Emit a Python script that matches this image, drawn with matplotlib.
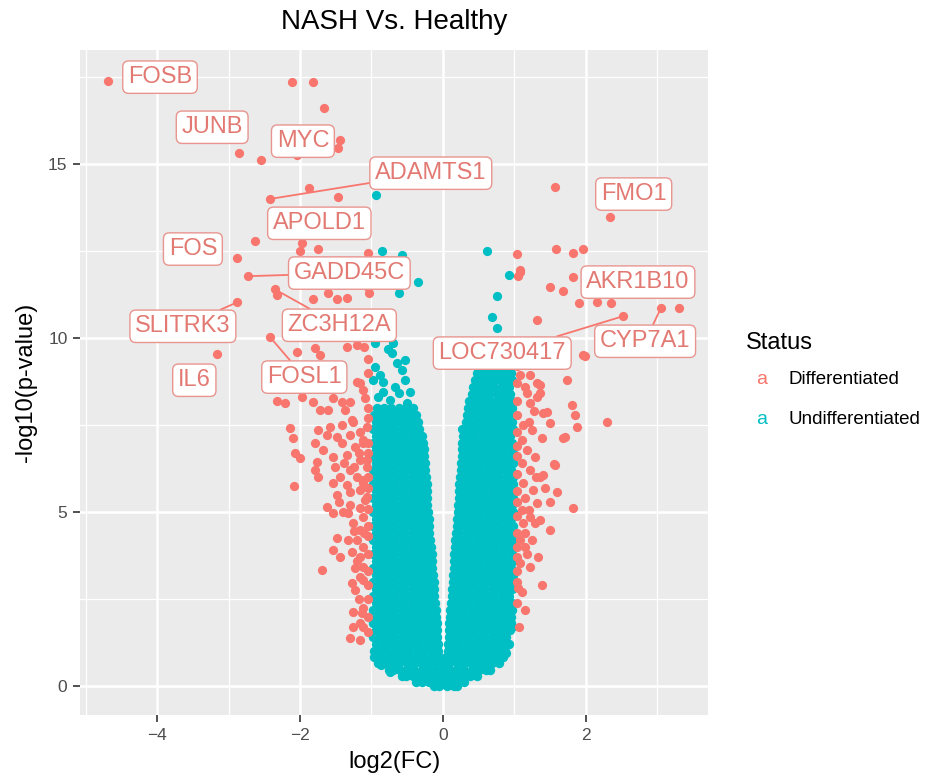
import matplotlib.pyplot as plt
import numpy as np

plt.rcParams['font.family'] = ['Liberation Sans', 'DejaVu Sans']

RED = '#F8766D'
TEAL = '#00BFC4'

# Differentiated genes (log2FC, -log10 p)
diff_x = [-4.69, -2.11, -1.82, -1.66, -2.85, -2.55, -1.44, -1.47, -2.04, -1.87,
          -2.42, -1.47, -2.63, -1.97, -2.00, -1.75, -1.05, -2.88, -2.73, -2.35,
          -2.32, -1.82, -1.61, -1.48, -1.34, -1.05, -1.03, -2.88, -2.42, -3.16,
          -2.04, -1.79, -1.72, -1.34, -1.20, -1.10, -1.16, -1.44, -1.20, -1.12,
          -1.47, -2.32, -2.21, -1.97, -1.82, -1.54, -1.41, -1.30, -1.09, -1.72,
          -1.61, -1.37, -1.27, -1.41, -1.06, -1.26, -2.14, -2.10, -1.75, -1.58,
          -1.62, -1.48, -1.30, -1.16, -1.12, -1.79, -1.41, -1.23, -1.12, -2.07,
          -1.68, -1.54, -1.34, -2.00, -1.76, -1.16, -1.06, -1.51, -1.79, -1.30,
          -1.06, -1.75, -1.44, -1.20, -1.12, -2.08, -1.54, -1.34, -1.12, -1.48,
          -1.30, -1.16, -1.09, -1.06, -1.62, -1.40, -1.33, -1.16, -1.54, -1.26,
          -1.16, -1.12, -1.48, -1.33, -1.20, -1.12, -1.54, -1.44, -1.27, -1.16,
          -1.69, -1.23, -1.12, -1.16, -1.27, -1.23, -1.12, -1.12, -1.26, -1.16,
          -1.12, -1.30, -1.16, -1.26, -1.13,
          -1.05, -1.05, -1.05, -1.05, -1.05, -1.05, -1.05, -1.05, -1.05, -1.05,
          -1.05, -1.05, -1.05, -1.05, -1.05, -1.05, -1.05, -1.18, -1.20, -1.10,
          -1.25, -1.30, -1.25, -1.17, -1.38, -1.45,
          1.57, 2.34, 1.03, 1.58, 1.82, 1.96, 1.08, 1.05, 1.50, 1.68,
          1.82, 1.90, 2.15, 2.35, 2.52, 3.05, 3.31, 1.31, 1.96, 1.99,
          1.73, 1.80, 1.85, 1.87, 2.29, 1.68, 1.38, 1.55, 1.40, 1.43,
          1.59, 1.50, 1.82, 1.50, 1.33, 1.39, 1.15, 1.06, 1.08, 1.22,
          1.31, 1.17, 1.36, 1.22, 1.40, 1.12, 1.24, 1.71, 1.10, 1.17,
          1.29, 1.10, 1.57, 1.22, 1.36, 1.12, 1.26, 1.15, 1.31, 1.10,
          1.22, 1.36, 1.12, 1.29, 1.15, 1.08, 1.15, 1.08, 1.22, 1.05,
          1.10, 1.15, 1.36, 1.31, 1.45, 1.50, 1.08, 1.03,
          1.04, 1.04, 1.04, 1.04, 1.04, 1.04, 1.04, 1.04, 1.04, 1.04,
          1.04, 1.04, 1.04, 1.04, 1.04, 1.04, 1.18, 1.25, 1.20, 1.30,
          1.20, 1.28]
diff_y = [17.39, 17.36, 17.36, 16.60, 15.32, 15.11, 15.69, 15.46, 15.26, 14.31,
          14.00, 14.05, 12.79, 12.73, 12.50, 12.56, 12.44, 12.30, 11.78, 11.40,
          11.25, 11.12, 11.29, 11.12, 11.15, 11.47, 11.30, 11.03, 10.03, 9.54,
          9.60, 9.71, 9.51, 9.74, 9.80, 9.74, 8.71, 8.80, 8.74, 8.50,
          8.60, 8.19, 8.13, 8.30, 8.16, 8.28, 8.16, 8.16, 8.28, 7.93,
          7.93, 7.93, 7.64, 7.50, 7.44, 7.59, 7.41, 7.13, 7.36, 7.44,
          7.21, 7.16, 7.21, 7.30, 7.07, 6.98, 6.98, 6.87, 6.98, 6.70,
          6.78, 6.58, 6.64, 6.55, 6.44, 6.49, 6.49, 6.29, 6.21, 6.21,
          6.29, 6.01, 6.01, 6.01, 5.92, 5.75, 5.83, 5.78, 5.83, 5.49,
          5.57, 5.63, 5.34, 5.43, 5.14, 5.00, 4.97, 5.11, 4.97, 4.68,
          4.48, 4.86, 4.25, 4.20, 4.20, 4.00, 3.91, 3.71, 3.85, 3.71,
          3.33, 3.39, 3.42, 3.13, 2.96, 2.76, 3.05, 2.24, 2.13, 1.81,
          1.70, 1.38, 1.32, 1.70, 2.10,
          9.40, 9.00, 8.00, 7.70, 7.00, 6.70, 6.00, 5.70, 5.10, 4.60,
          4.30, 3.80, 3.30, 2.90, 2.50, 2.00, 1.55, 2.50, 3.60, 4.40,
          4.45, 5.20, 6.30, 6.70, 6.40, 5.30,
          14.33, 13.48, 12.41, 12.56, 12.45, 12.57, 11.90, 11.78, 11.47, 11.35,
          11.75, 11.00, 11.03, 11.00, 10.63, 10.86, 10.86, 10.52, 9.51, 9.50,
          8.79, 8.08, 7.79, 7.44, 7.58, 7.13, 7.13, 6.38, 6.06, 5.69,
          5.57, 5.29, 5.11, 4.48, 3.71, 2.90, 2.18, 1.70, 8.94, 8.94,
          8.70, 8.42, 8.42, 8.13, 7.84, 7.50, 7.36, 7.16, 7.07, 6.78,
          6.58, 6.41, 6.35, 6.21, 6.01, 5.83, 5.63, 5.40, 5.26, 5.06,
          4.86, 4.77, 4.68, 4.68, 4.40, 4.20, 4.00, 3.53, 3.42, 2.82,
          2.70, 8.60, 8.65, 8.30, 7.87, 7.56, 11.95, 8.70,
          9.20, 8.20, 7.80, 7.30, 6.90, 6.60, 6.10, 5.60, 5.30, 4.90,
          4.40, 4.00, 3.70, 3.30, 3.00, 2.40, 3.80, 4.20, 5.05, 6.00,
          7.60, 7.90]

# Undifferentiated genes standing apart from the main cloud
undiff_x = [-0.94, -0.85, -0.58, -0.35, -0.61, -0.55, -0.95, -0.70, -0.53, -0.71,
            -0.64, -0.95, -0.98, -0.84, -0.53, -0.46, -0.84, -0.57, -0.88, -0.67,
            -0.62, -0.91, -0.74, -0.50, -0.77, -0.74, -0.86,
            0.61, 0.92, 0.76, 0.68, 0.76, 0.27, 0.55, 0.70, 0.85, 0.45,
            0.80, 0.88, 0.96]
undiff_y = [14.10, 12.50, 12.40, 11.60, 11.30, 11.95, 9.86, 9.86, 9.37, 9.56,
            9.28, 9.17, 8.80, 8.74, 8.80, 8.45, 8.45, 9.08, 8.94, 8.60,
            8.42, 8.30, 8.22, 8.13, 9.70, 0.40, 0.60,
            12.50, 11.80, 11.20, 10.60, 10.30, 7.40, 9.60, 9.80, 9.50, 9.40,
            0.85, 0.95, 1.70]

# Dense undifferentiated cloud, row by row: (-log10 p, log2FC x 100)
undiff_rows = [
    (0.00, [-12, -5, 5, 15, 20]),
    (0.12, [-38, -30, -20, -10, 0, 10, 20, 30]),
    (0.28, [-58, -52, -42, -32, -22, -12, -2, 8, 18, 28, 38, 48]),
    (0.45, [-76, -70, -60, -50, -40, -30, -20, -10, 0, 10, 20, 30, 40, 50, 60, 66]),
    (0.65, [-91, -81, -71, -61, -51, -41, -31, -21, -11, -1, 9, 19, 29, 39, 49, 59, 69, 79]),
    (0.85, [-96, -86, -76, -66, -56, -46, -36, -26, -16, -6, 4, 14, 24, 34, 44, 54, 64, 74, 84]),
    (1.0, [-97, -87, -77, -67, -57, -47, -37, -27, -17, -7, 7, 17, 27, 37, 47, 57, 67, 77, 87]),
    (1.2, [-93, -83, -73, -63, -53, -43, -33, -23, -13, -7, 7, 13, 23, 33, 43, 53, 63, 73, 83, 92]),
    (1.4, [-98, -88, -78, -68, -58, -48, -38, -28, -18, -8, 8, 18, 28, 38, 48, 58, 68, 78, 88]),
    (1.6, [-94, -84, -74, -64, -54, -44, -34, -24, -14, -8, 8, 14, 24, 34, 44, 54, 64, 74, 84, 94]),
    (1.8, [-98, -88, -78, -68, -58, -48, -38, -28, -18, -9, 9, 19, 29, 39, 49, 59, 69, 79, 89, 95]),
    (2.0, [-94, -84, -74, -64, -54, -44, -34, -24, -15, -10, 10, 15, 25, 35, 45, 55, 65, 75, 85, 95]),
    (2.2, [-98, -88, -78, -68, -58, -48, -38, -28, -19, -10, 10, 20, 30, 40, 50, 60, 70, 80, 90, 96]),
    (2.4, [-94, -84, -74, -64, -54, -44, -34, -24, -15, -11, 11, 17, 27, 37, 47, 57, 67, 77, 87, 96]),
    (2.6, [-98, -88, -78, -68, -58, -48, -38, -28, -20, -12, 12, 22, 32, 42, 52, 62, 72, 82, 92]),
    (2.8, [-94, -84, -74, -64, -54, -44, -34, -24, -15, -12, 12, 18, 28, 38, 48, 58, 68, 78, 88, 97]),
    (3.0, [-98, -88, -78, -68, -58, -48, -38, -28, -20, -13, 14, 24, 34, 44, 54, 64, 74, 84, 94]),
    (3.2, [-94, -84, -74, -64, -54, -44, -34, -24, -14, 14, 20, 30, 40, 50, 60, 70, 80, 90, 98]),
    (3.4, [-98, -88, -78, -68, -58, -48, -38, -28, -20, -15, 15, 25, 35, 45, 55, 65, 75, 85, 95]),
    (3.6, [-94, -84, -74, -64, -54, -44, -34, -24, -15, 15, 21, 31, 41, 51, 61, 71, 81, 91, 98]),
    (3.8, [-98, -88, -78, -68, -58, -48, -38, -28, -20, -16, 16, 26, 36, 46, 56, 66, 76, 86, 96]),
    (4.0, [-94, -84, -74, -64, -54, -44, -34, -25, -17, 17, 22, 32, 42, 52, 62, 72, 82, 92, 98]),
    (4.2, [-98, -88, -78, -68, -58, -48, -38, -28, -18, 17, 27, 37, 47, 57, 67, 77, 87, 97]),
    (4.4, [-94, -84, -74, -64, -54, -44, -34, -26, -19, 18, 23, 33, 43, 53, 63, 73, 83, 93, 98]),
    (4.6, [-98, -88, -78, -68, -58, -48, -38, -29, -20, 19, 29, 39, 49, 59, 69, 79, 89, 98]),
    (4.8, [-94, -84, -74, -64, -54, -44, -34, -26, -20, 20, 25, 35, 45, 55, 65, 75, 85, 95]),
    (5.0, [-98, -88, -78, -68, -58, -48, -38, -29, -21, 21, 31, 41, 51, 61, 71, 81, 91, 98]),
    (5.2, [-94, -84, -74, -64, -54, -44, -34, -27, -22, 21, 27, 37, 47, 57, 67, 77, 87, 97]),
    (5.4, [-98, -88, -78, -68, -58, -48, -38, -30, -22, 22, 32, 42, 52, 62, 72, 82, 92, 98]),
    (5.6, [-94, -84, -74, -64, -54, -44, -34, -28, -23, 22, 28, 38, 48, 58, 68, 78, 88, 97]),
    (5.8, [-98, -88, -78, -68, -58, -48, -38, -30, -23, 23, 33, 43, 53, 63, 73, 83, 93, 98]),
    (6.0, [-94, -84, -74, -64, -54, -44, -34, -24, 24, 29, 39, 49, 59, 69, 79, 89, 98]),
    (6.2, [-98, -88, -78, -68, -58, -48, -38, -31, -25, 25, 35, 45, 55, 65, 75, 85, 95]),
    (6.4, [-94, -84, -74, -64, -54, -44, -34, -25, 25, 31, 41, 51, 61, 71, 81, 91, 98]),
    (6.6, [-98, -88, -78, -68, -58, -48, -38, -32, -26, 26, 36, 46, 56, 66, 76, 86, 96]),
    (6.8, [-94, -84, -74, -64, -54, -44, -35, -27, 27, 32, 42, 52, 62, 72, 82, 92, 98]),
    (7.0, [-98, -88, -78, -68, -58, -48, -38, -28, 27, 37, 47, 57, 67, 77, 87, 97]),
    (7.2, [-94, -84, -74, -64, -54, -44, -36, -30, 28, 34, 44, 54, 64, 74, 84, 94]),
    (7.4, [-98, -88, -78, -68, -58, -48, -40, -33, 30, 40, 50, 60, 70, 80, 90, 98]),
    (7.6, [-94, -84, -74, -64, -54, -44, -35, 32, 37, 47, 57, 67, 77, 87, 96]),
    (7.8, [-97, -87, -77, -67, -57, -47, -38, 33, 43, 53, 63, 73, 83, 93]),
    (8.0, [-92, -82, -72, -62, -52, -42, 35, 40, 50, 60, 70, 80, 90, 97]),
    (8.2, [37, 47, 57, 67, 77, 87, 96]),
    (8.4, [40, 45, 55, 65, 75, 85, 94]),
    (8.6, [42, 52, 62, 72, 82, 92]),
    (8.8, [45, 50, 60, 70, 80, 90, 97]),
    (9.0, [47, 57, 67, 77, 87, 95]),
    (9.2, [50, 62, 74, 86, 95]),
]

# Labelled genes: name, point, label centre
genes = ['FOSB', 'JUNB', 'MYC', 'ADAMTS1', 'APOLD1', 'FOS', 'GADD45C', 'SLITRK3',
         'ZC3H12A', 'IL6', 'FOSL1', 'LOC730417', 'CYP7A1', 'AKR1B10', 'FMO1']
gene_x = [-4.69, -2.85, -2.04, -2.42, -2.63, -2.88, -2.73, -2.88,
          -2.35, -3.16, -2.42, 2.52, 3.05, 1.82, 2.34]
gene_y = [17.39, 15.32, 15.26, 14.00, 12.79, 12.30, 11.78, 11.03,
          11.40, 9.54, 10.03, 10.63, 10.86, 11.75, 13.48]
label_x = [-3.96, -3.23, -1.96, -0.17, -1.73, -3.50, -1.31, -3.64,
           -1.45, -3.48, -1.94, 0.83, 2.83, 2.73, 2.67]
label_y = [17.50, 16.06, 15.66, 14.74, 13.30, 12.56, 11.87, 10.34,
           10.37, 8.79, 8.88, 9.57, 9.91, 11.61, 14.14]
has_segment = [False, False, False, True, False, False, True, True,
               True, False, True, True, True, False, False]

core_x, core_y = [], []
for y, xs in undiff_rows:
    core_x += [v / 100 for v in xs]
    core_y += [y] * len(xs)

fig = plt.figure(figsize=(9.31, 7.84), dpi=100)
ax = fig.add_axes([80 / 931, 1 - 715 / 784, 628 / 931, 665 / 784])
ax.set_facecolor('#EBEBEB')

ax.scatter(core_x, core_y, s=46, color=TEAL, linewidths=0, zorder=2)
ax.scatter(undiff_x, undiff_y, s=44, color=TEAL, linewidths=0, zorder=2)
ax.scatter(diff_x, diff_y, s=44, color=RED, linewidths=0, zorder=3)

for g, px, py, lx, ly, seg in zip(genes, gene_x, gene_y, label_x, label_y, has_segment):
    arrow = dict(arrowstyle='-', color=RED, lw=1.3, shrinkA=0, shrinkB=2) if seg else None
    ax.annotate(g, xy=(px, py), xytext=(lx, ly), textcoords='data',
                ha='center', va='center', fontsize=17, color='#E27A73',
                bbox=dict(boxstyle='round,pad=0.22,rounding_size=0.25', fc='white',
                          ec='#E8958F', lw=1.0),
                arrowprops=arrow, zorder=5)

ax.set_xlim(-5.08, 3.71)
ax.set_ylim(-0.83, 18.28)
ax.set_xticks([-4, -2, 0, 2])
ax.set_xticks([-5, -3, -1, 1, 3], minor=True)
ax.set_yticks([0, 5, 10, 15])
ax.set_yticks([2.5, 7.5, 12.5, 17.5], minor=True)
ax.grid(which='major', color='white', lw=1.8, zorder=0)
ax.grid(which='minor', color='white', lw=0.9, zorder=0)
ax.set_axisbelow(True)
for sp in ax.spines.values():
    sp.set_visible(False)
ax.tick_params(which='major', length=5, width=1.2, color='#333333',
               labelsize=12.5, labelcolor='#4D4D4D', pad=4)
ax.tick_params(which='minor', length=0)

ax.set_xlabel('log2(FC)', fontsize=17, labelpad=6)
ax.set_ylabel('-log10(p-value)', fontsize=17, labelpad=8)

fig.text(394 / 931, 1 - 22 / 784, 'NASH Vs. Healthy', ha='center', va='center', fontsize=20)

# legend with text keys, as ggplot draws for geom_label
fig.text(746 / 931, 1 - 343 / 784, 'Status', ha='left', va='center', fontsize=17)
for k, (name, col) in enumerate([('Differentiated', RED), ('Undifferentiated', TEAL)]):
    yy = 1 - (380 + 40 * k) / 784
    fig.text(762 / 931, yy, 'a', ha='center', va='center', fontsize=14, color=col)
    fig.text(789 / 931, yy, name, ha='left', va='center', fontsize=13.5)

fig.savefig('out.png', dpi=100)
